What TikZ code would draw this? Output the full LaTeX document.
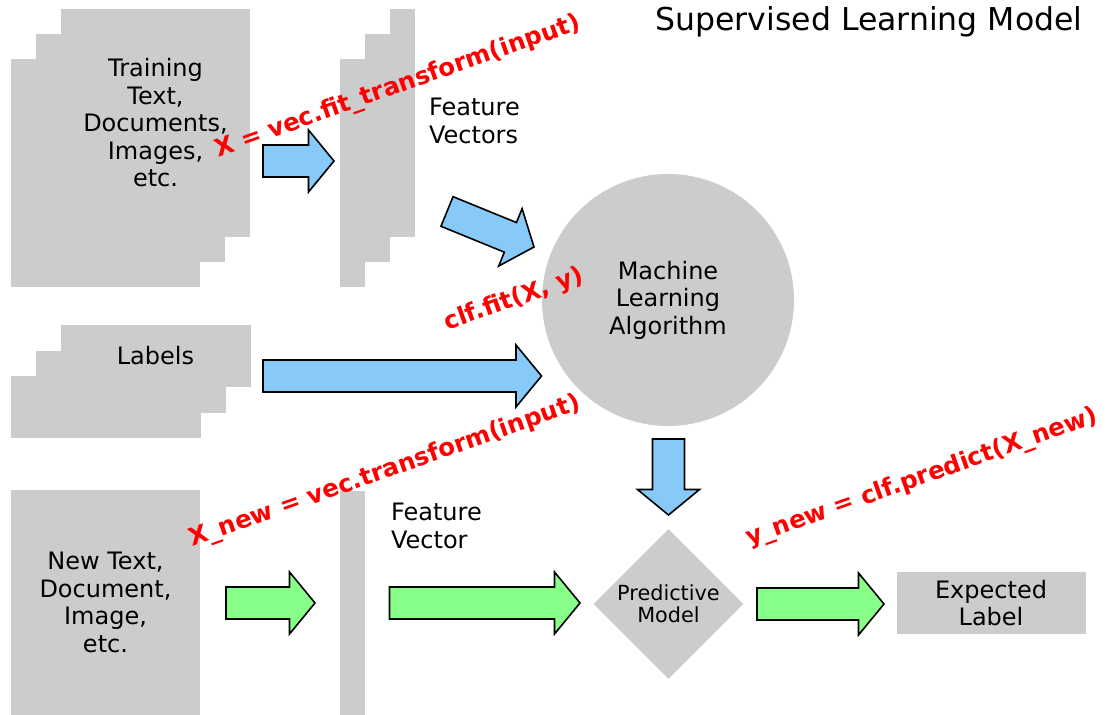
\documentclass[tikz,border=0pt]{standalone}
\usepackage{fontspec}
\setmainfont{DejaVu Sans}
\usepackage{tikz}
\usetikzlibrary{calc,shapes.geometric}
\definecolor{sheetgray}{RGB}{204,204,204}
\definecolor{fitblue}{RGB}{135,202,250}
\definecolor{predgreen}{RGB}{136,255,136}

% block arrow from #2 (tail) to #3 (tip), filled with #1
\newcommand{\fatarrow}[3]{%
  \coordinate (fa-b) at ($(#3)!12.75pt!(#2)$);
  \draw[fatarr, fill=#1] ($(#2)!8pt!90:(#3)$) -- ($(fa-b)!8pt!-90:(#2)$) -- ($(fa-b)!15.5pt!-90:(#2)$) -- (#3)
    -- ($(fa-b)!15.5pt!90:(#2)$) -- ($(fa-b)!8pt!90:(#2)$) -- ($(#2)!8pt!-90:(#3)$) -- cycle;
}

\begin{document}
\begin{tikzpicture}[
  x=0.5pt, y=-0.5pt,
  sheet/.style={fill=sheetgray, inner sep=0pt, outer sep=0pt},
  doc/.style={sheet, minimum width=94.5pt, minimum height=114pt},
  strip/.style={sheet, minimum width=12.5pt, minimum height=114pt},
  tag/.style={sheet, minimum width=95pt, minimum height=31pt},
  txt/.style={font=\fontsize{12}{13.75}\selectfont, align=center},
  code/.style={font=\fontsize{12.2}{14}\selectfont\bfseries, text=red, rotate=19.5},
  fatarr/.style={draw=black, line width=0.8pt, line join=miter}
]
\useasboundingbox (0,0) rectangle (1110,715);

\node[font=\fontsize{15.75}{18}\selectfont] (title) at (869,22) {Supervised Learning Model};

% training data
\node[doc] (train3) at (105.5,173.5) {};
\node[doc] (train2) at (130.5,148) {};
\node[doc, txt] (train) at (155.5,123) {Training\\Text,\\Documents,\\Images,\\etc.};

\node[strip] (feat3) at (352.5,173.5) {};
\node[strip] (feat2) at (377.5,148) {};
\node[strip] (feat) at (402.5,123) {};
\node[txt, align=left, anchor=west] (featlabel) at (422,121) {Feature\\Vectors};

\node[tag] (lab3) at (105.5,407.5) {};
\node[tag] (lab2) at (130.5,382) {};
\node[tag, txt] (labels) at (155.5,356) {Labels};

\node[circle, fill=sheetgray, minimum size=126pt, inner sep=0pt, txt] (algo) at (668,300) {Machine\\Learning\\Algorithm};

% new data
\node[sheet, minimum width=94.5pt, minimum height=112.5pt, txt] (newdoc) at (105.5,602.5) {New Text,\\Document,\\Image,\\etc.};
\node[sheet, minimum width=12.5pt, minimum height=112pt] (newfeat) at (352.5,603) {};
\node[txt, align=left, anchor=west] (newfeatlabel) at (384,526) {Feature\\Vector};
\node[diamond, fill=sheetgray, minimum width=75pt, minimum height=75pt, inner sep=0pt,
  font=\fontsize{10.4}{10.8}\selectfont, align=center] (model) at (668.5,604) {Predictive\\Model};
\node[sheet, minimum width=94.5pt, minimum height=31pt, txt] (expected) at (991,603) {Expected\\Label};

% arrows
\coordinate (train-out) at (263,161);
\coordinate (feat-in) at (334,161);
\coordinate (feat-out) at (447,211.5);
\coordinate (algo-in) at (534,247);
\coordinate (lab-out) at (263,376);
\coordinate (algo-in2) at (541.5,376);
\coordinate (algo-out) at (668.5,439);
\coordinate (model-in) at (668.5,515);
\coordinate (newdoc-out) at (226,603);
\coordinate (newfeat-in) at (315,603);
\coordinate (newfeat-out) at (389.5,603);
\coordinate (model-in2) at (580,603);
\coordinate (model-out) at (757,604);
\coordinate (expected-in) at (884,604);

\fatarrow{fitblue}{train-out}{feat-in}
\fatarrow{fitblue}{feat-out}{algo-in}
\fatarrow{fitblue}{lab-out}{algo-in2}
\fatarrow{fitblue}{algo-out}{model-in}
\fatarrow{predgreen}{newdoc-out}{newfeat-in}
\fatarrow{predgreen}{newfeat-out}{model-in2}
\fatarrow{predgreen}{model-out}{expected-in}

% code labels
\node[code] (fitcode) at (398,87) {X = vec.fit\_transform(input)};
\node[code] (clfcode) at (514,300) {clf.fit(X, y)};
\node[code] (newcode) at (385,472) {X\_new = vec.transform(input)};
\node[code] (predcode) at (922,478) {y\_new = clf.predict(X\_new)};
\end{tikzpicture}
\end{document}
